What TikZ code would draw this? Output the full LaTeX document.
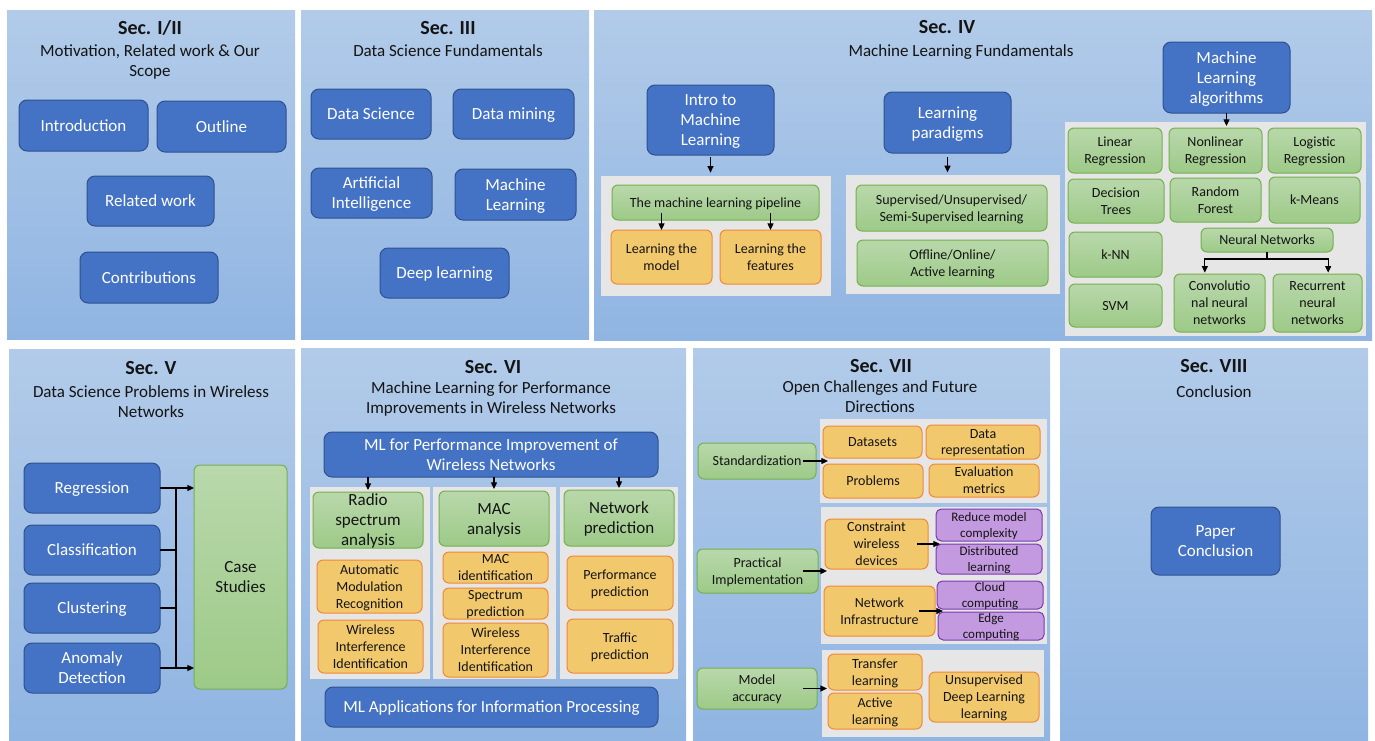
\documentclass[tikz,border=0pt]{standalone}
\usepackage{fontspec}
\setmainfont{Carlito}
\usetikzlibrary{arrows.meta,calc}
\definecolor{bfill}{HTML}{4472C4}
\definecolor{bdraw}{HTML}{2F528F}
\definecolor{gtop}{HTML}{B9D8AB}
\definecolor{gbot}{HTML}{9DCA88}
\definecolor{gdraw}{HTML}{74B04E}
\definecolor{ofill}{HTML}{F2C86C}
\definecolor{odraw}{HTML}{F0883A}
\definecolor{pfill}{HTML}{C39AE0}
\definecolor{pdraw}{HTML}{7A3AAE}
\definecolor{grayc}{HTML}{E7E6E6}
\definecolor{ptop}{HTML}{B2CBE9}
\definecolor{pbot}{HTML}{90B5E2}
\definecolor{txt}{HTML}{141414}
\newcommand\mkbox[6]{\node[#1,minimum width={(#4-#2)*0.75pt},minimum height={(#5-#3)*0.75pt}] (#6) at ({(#2+#4)/2},{(#3+#5)/2})}
\tikzset{
 base/.style={inner sep=0pt, outer sep=0pt, align=center, line width=0.75pt, text depth=0pt},
 fL/.style={font=\fontsize{12.75pt}{15pt}\selectfont},
 fS/.style={font=\fontsize{10.5pt}{12.75pt}\selectfont},
 fXS/.style={font=\fontsize{9.75pt}{12pt}\selectfont},
 bbox/.style={base, fL, rounded corners=6pt, fill=bfill, draw=bdraw, text=white},
 gbox/.style={base, fS, rounded corners=4.5pt, top color=gtop, bottom color=gbot, draw=gdraw, text=txt},
 gboxL/.style={gbox, fL},
 obox/.style={base, fS, rounded corners=4.5pt, fill=ofill, draw=odraw, text=txt},
 pbox/.style={base, fXS, rounded corners=4pt, fill=pfill, draw=pdraw, text=txt},
 cont/.style={inner sep=0pt, outer sep=0pt, fill=grayc},
 panel/.style={inner sep=0pt, outer sep=0pt, top color=ptop, bottom color=pbot},
 ttl/.style={font=\bfseries\fontsize{15pt}{18pt}\selectfont, text=txt, inner sep=0pt},
 sub/.style={fL, align=center, text=txt, inner sep=0pt, text depth=0pt},
 arr/.style={-{Triangle[length=5pt,width=4.5pt]}, line width=0.9pt, draw=black},
 conn/.style={line width=0.9pt, draw=black},
}
\begin{document}
\begin{tikzpicture}[x=0.75pt,y=-0.75pt]
\useasboundingbox (0,0) rectangle (1375,740);
\fill[white] (0,0) rectangle (1375,740);
% panels
\mkbox{panel}{7}{10}{295}{339}{P1} {};
\mkbox{panel}{301}{10}{589}{339}{P2} {};
\mkbox{panel}{594}{10}{1372}{340}{P3} {};
\mkbox{panel}{9}{349}{295}{740}{P4} {};
\mkbox{panel}{301}{348}{686}{740}{P5} {};
\mkbox{panel}{693}{348}{1050}{740}{P6} {};
\mkbox{panel}{1060}{348}{1368}{740}{P7} {};
% Sec I/II
\node[ttl] (T1) at (150,28) {Sec. I/II};
\node[sub] (S1) at (150,61) {Motivation, Related work \& Our\\Scope};
\mkbox{bbox}{19}{100}{148}{151}{intro} {Introduction};
\mkbox{bbox}{157}{101}{286}{152}{outl} {Outline};
\mkbox{bbox}{87}{176}{214}{226}{relw} {Related work};
\mkbox{bbox}{80}{252}{218}{303}{contr} {Contributions};
% Sec III
\node[ttl] (T2) at (448,28) {Sec. III};
\node[sub] (S2) at (448,51) {Data Science Fundamentals};
\mkbox{bbox}{311}{89}{431}{139}{dsci} {Data Science};
\mkbox{bbox}{453}{89}{574}{139}{dmin} {Data mining};
\mkbox{bbox}{311}{168}{432}{218}{ai} {Artificial\\Intelligence};
\mkbox{bbox}{455}{169}{576}{220}{mlb} {Machine\\Learning};
\mkbox{bbox}{380}{248}{509}{298}{dl} {Deep learning};
% Sec IV
\node[ttl] (T3) at (947,27) {Sec. IV};
\node[sub] (S3) at (961,51) {Machine Learning Fundamentals};
\mkbox{bbox}{647}{85}{774}{155}{iml} {Intro to\\Machine\\Learning};
\mkbox{cont}{601}{176}{831}{296}{c4a} {};
\mkbox{gbox}{612}{185}{819}{220}{pipe} {The machine learning pipeline};
\mkbox{obox}{611}{230}{712}{284}{lmod} {Learning the\\model};
\mkbox{obox}{720}{230}{821}{284}{lfeat} {Learning the\\features};
\draw[arr, shorten <=1.5pt, shorten >=2.5pt] (iml.south) -- (iml.south |- c4a.north);
\draw[arr, shorten <=-5pt] (pipe.south -| lmod.north) -- (lmod.north);
\draw[arr, shorten <=-5pt] (pipe.south -| lfeat.north) -- (lfeat.north);
\mkbox{bbox}{884}{92}{1011}{153}{lpar} {Learning\\paradigms};
\mkbox{cont}{846}{175}{1060}{294}{c4b} {};
\mkbox{gbox}{856}{185}{1047}{231}{sup} {Supervised/Unsupervised/\\Semi-Supervised learning};
\mkbox{gbox}{857}{240}{1048}{286}{offl} {Offline/Online/\\Active learning};
\draw[arr, shorten <=3pt, shorten >=2pt] (lpar.south) -- (lpar.south |- c4b.north);
\mkbox{bbox}{1163}{42}{1290}{113}{mla} {Machine\\Learning\\algorithms};
\mkbox{cont}{1065}{122}{1366}{336}{c4c} {};
\mkbox{gbox}{1068}{128}{1162}{173}{linr} {Linear\\Regression};
\mkbox{gbox}{1169}{128}{1262}{173}{nlinr} {Nonlinear\\Regression};
\mkbox{gbox}{1268}{128}{1361}{173}{logr} {Logistic\\Regression};
\mkbox{gbox}{1068}{179}{1164}{223}{dtree} {Decision\\Trees};
\mkbox{gbox}{1170}{178}{1261}{222}{rfor} {Random\\Forest};
\mkbox{gbox}{1269}{177}{1360}{223}{kmea} {k-Means};
\mkbox{gbox}{1069}{232}{1162}{277}{knn} {k-NN};
\mkbox{gbox}{1069}{284}{1162}{327}{svm} {SVM};
\mkbox{gbox}{1201}{228}{1333}{252}{nn} {Neural Networks};
\mkbox{gbox}{1174}{274}{1265}{332}{conv} {Convolutio\\nal neural\\networks};
\mkbox{gbox}{1273}{274}{1362}{332}{rec} {Recurrent\\neural\\networks};
\draw[arr, shorten >=1.5pt] (mla.south) -- (mla.south |- nlinr.north);
\coordinate (nnj) at ($(nn.south)+(0,7)$);
\draw[conn] (nn.south) -- (nnj);
\draw[arr, shorten >=1pt] (nnj) -| ([xshift=-11pt]conv.north);
\draw[arr, shorten >=1pt] (nnj) -| ([xshift=8pt]rec.north);
% Sec V
\node[ttl] (T4) at (151,368) {Sec. V};
\node[sub] (S4) at (151,402) {Data Science Problems in Wireless\\Networks};
\mkbox{bbox}{24}{463}{160}{513}{reg} {Regression};
\mkbox{bbox}{24}{525}{160}{575}{cls} {Classification};
\mkbox{bbox}{24}{583}{160}{633}{clu} {Clustering};
\mkbox{bbox}{24}{643}{160}{693}{ano} {Anomaly\\Detection};
\mkbox{gboxL}{194}{465}{287}{689}{cs} {Case\\Studies};
\coordinate (bus) at (176,0);
\draw[arr] (reg.east) -- (reg.east -| cs.west);
\draw[arr] (ano.east) -- (ano.east -| cs.west);
\draw[conn] (reg.east -| bus) -- (ano.east -| bus);
\draw[conn] (cls.east) -- (cls.east -| bus);
\draw[conn] (clu.east) -- (clu.east -| bus);
% Sec VI
\node[ttl] (T5) at (493,367) {Sec. VI};
\node[sub] (S5) at (491,398) {Machine Learning for Performance\\Improvements in Wireless Networks};
\mkbox{bbox}{324}{432}{658}{477}{mlp} {ML for Performance Improvement of\\Wireless Networks};
\mkbox{cont}{310}{487}{430}{679}{c6a} {};
\mkbox{cont}{433}{487}{556}{679}{c6b} {};
\mkbox{cont}{560}{487}{678}{679}{c6c} {};
\mkbox{gboxL}{313}{492}{423}{548}{rsa} {Radio\\spectrum\\analysis};
\mkbox{gboxL}{439}{491}{549}{546}{maca} {MAC\\analysis};
\mkbox{gboxL}{564}{490}{674}{546}{netp} {Network\\prediction};
\mkbox{obox}{317}{560}{422}{613}{amr} {Automatic\\Modulation\\Recognition};
\mkbox{obox}{318}{620}{423}{673}{wiia} {Wireless\\Interference\\Identification};
\mkbox{obox}{443}{552}{548}{583}{maci} {MAC\\identification};
\mkbox{obox}{443}{588}{548}{619}{spp} {Spectrum\\prediction};
\mkbox{obox}{443}{623}{548}{677}{wiib} {Wireless\\Interference\\Identification};
\mkbox{obox}{567}{556}{673}{610}{perf} {Performance\\prediction};
\mkbox{obox}{567}{619}{673}{673}{traf} {Traffic\\prediction};
\mkbox{bbox}{325}{687}{658}{727}{mlapp} {ML Applications for Information Processing};
\draw[arr, shorten >=1.5pt] (mlp.south -| rsa.north) -- (rsa.north);
\draw[arr, shorten >=1.5pt] (mlp.south -| maca.north) -- (maca.north);
\draw[arr, shorten >=1.5pt] (mlp.south -| netp.north) -- (netp.north);
% Sec VII
\node[ttl] (T6) at (881,366) {Sec. VII};
\node[sub] (S6) at (880,397) {Open Challenges and Future\\Directions};
\mkbox{gbox}{698}{443}{816}{479}{std} {Standardization};
\mkbox{cont}{820}{419}{1047}{503}{c7a} {};
\mkbox{obox}{823}{426}{922}{458}{dsets} {Datasets};
\mkbox{obox}{926}{425}{1040}{459}{drep} {Data\\representation};
\mkbox{obox}{823}{464}{923}{498}{probs} {Problems};
\mkbox{obox}{929}{464}{1039}{497}{evm} {Evaluation\\metrics};
\mkbox{gbox}{697}{549}{818}{593}{prac} {Practical\\Implementation};
\mkbox{cont}{821}{507}{1047}{644}{c7b} {};
\mkbox{obox}{825}{519}{928}{569}{cwd} {Constraint\\wireless\\devices};
\mkbox{pbox}{936}{509}{1042}{541}{rmc} {Reduce model\\complexity};
\mkbox{pbox}{936}{544}{1042}{574}{dist} {Distributed\\learning};
\mkbox{obox}{824}{586}{935}{636}{ninf} {Network\\Infrastructure};
\mkbox{pbox}{937}{581}{1043}{609}{cloud} {Cloud\\computing};
\mkbox{pbox}{938}{612}{1044}{640}{edge} {Edge\\computing};
\mkbox{gbox}{697}{668}{817}{709}{macc} {Model\\accuracy};
\mkbox{cont}{822}{650}{1044}{737}{c7c} {};
\mkbox{obox}{828}{654}{922}{690}{tl} {Transfer\\learning};
\mkbox{obox}{828}{693}{922}{729}{al} {Active\\learning};
\mkbox{obox}{929}{672}{1039}{722}{udl} {Unsupervised\\Deep Learning\\learning};
\draw[arr, shorten <=-9.75pt, shorten >=-6pt] (std.east) -- (std.east -| c7a.west);
\draw[arr, shorten <=-11pt, shorten >=-4.5pt] (prac.east) -- (prac.east -| c7b.west);
\draw[arr, shorten <=-10.5pt, shorten >=-3.75pt] (macc.east) -- (macc.east -| c7c.west);
\draw[arr, shorten <=-8pt, shorten >=-3pt] (cwd.east) -- (cwd.east -| rmc.west);
\draw[arr, shorten <=-12pt, shorten >=-4.5pt] (ninf.east) -- (ninf.east -| cloud.west);
% Sec VIII
\node[ttl] (T7) at (1214,366) {Sec. VIII};
\node[sub] (S7) at (1214,392) {Conclusion};
\mkbox{bbox}{1151}{507}{1280}{575}{pc} {Paper\\Conclusion};
\end{tikzpicture}
\end{document}
